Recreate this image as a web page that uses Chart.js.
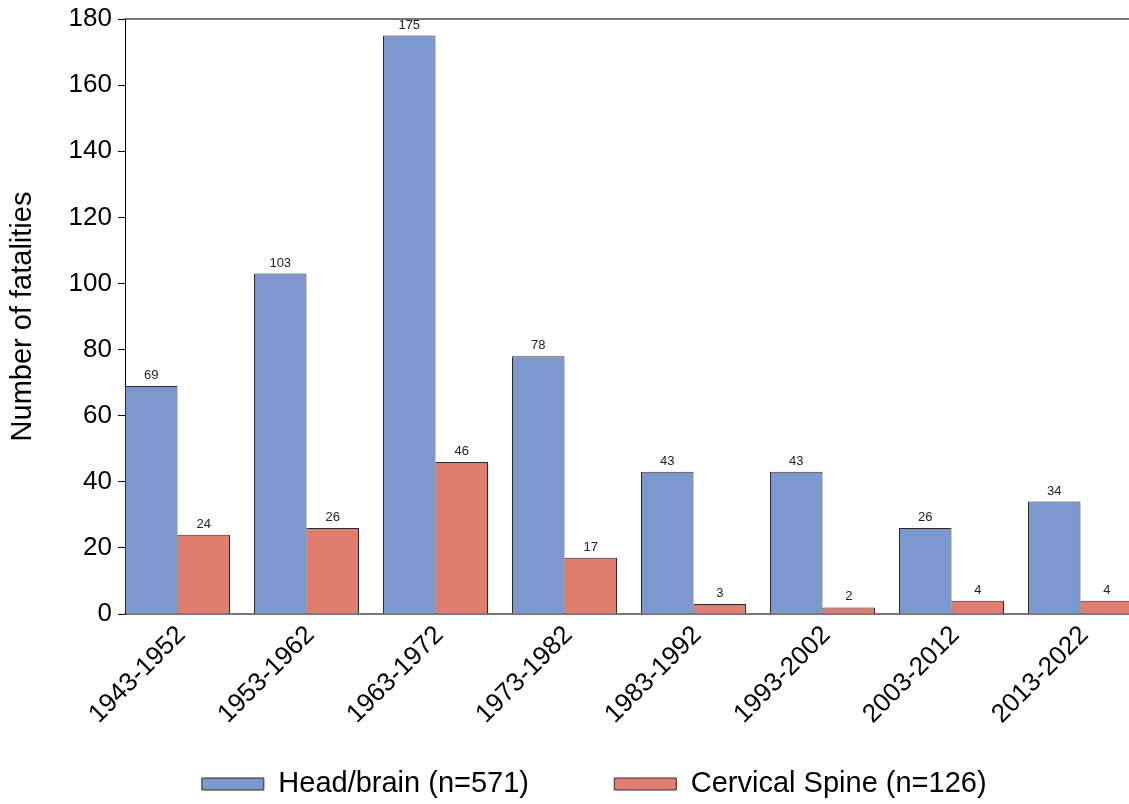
<!DOCTYPE html>
<html>
<head>
    <title>Fatalities by decade</title>
    <script src="https://cdn.jsdelivr.net/npm/chart.js"></script>
    <style>
        html, body { margin: 0; padding: 0; overflow: hidden; background: #fff; }
    </style>
</head>
<body>
    <canvas id="fatalChart" width="1160" height="820"></canvas>

    <script>
        const decades = ['1943-1952', '1953-1962', '1963-1972', '1973-1982',
                         '1983-1992', '1993-2002', '2003-2012', '2013-2022'];
        const headBrain = [69, 103, 175, 78, 43, 43, 26, 34];
        const cervicalSpine = [24, 26, 46, 17, 3, 2, 4, 4];
        const yTicks = [0, 20, 40, 60, 80, 100, 120, 140, 160, 180];

        const fontFamily = '"Liberation Sans", Arial, sans-serif';
        const groupShare = 105 / 129;   // part of each decade slot taken by the two bars
        const padLeft = 31.4;

        // numbers above the bars
        const valueLabels = {
            id: 'valueLabels',
            afterDatasetsDraw(chart) {
                const ctx = chart.ctx;
                ctx.save();
                ctx.font = '13px ' + fontFamily;
                ctx.fillStyle = '#222';
                ctx.textAlign = 'center';
                ctx.textBaseline = 'bottom';
                chart.data.datasets.forEach((ds, di) => {
                    chart.getDatasetMeta(di).data.forEach((bar, i) => {
                        ctx.fillText(ds.data[i], bar.x, bar.y - 4);
                    });
                });
                ctx.restore();
            }
        };

        const ctx = document.getElementById('fatalChart').getContext('2d');
        const fatalChart = new Chart(ctx, {
            type: 'bar',
            data: {
                labels: decades.map((d, i) => i),
                datasets: [{
                    label: 'Head/brain (n=571)',
                    data: headBrain,
                    backgroundColor: '#7C98CE',
                    borderColor: '#2b2b2b',
                    borderWidth: 1
                }, {
                    label: 'Cervical Spine (n=126)',
                    data: cervicalSpine,
                    backgroundColor: '#E07D6F',
                    borderColor: '#2b2b2b',
                    borderWidth: 1
                }]
            },
            options: {
                responsive: false,
                animation: false,
                layout: { padding: { left: padLeft, right: 3, top: 19, bottom: 11.5 } },
                datasets: {
                    bar: { categoryPercentage: groupShare, barPercentage: 1 }
                },
                plugins: {
                    tooltip: { enabled: false },
                    legend: {
                        position: 'bottom',
                        labels: {
                            boxWidth: 62,
                            boxHeight: 12,
                            padding: 45,
                            color: '#000',
                            font: { family: fontFamily, size: 29 },
                            // a few trailing spaces widen the gap between the two entries
                            generateLabels: chart => {
                                const items = Chart.defaults.plugins.legend.labels.generateLabels(chart);
                                items[0].text += '     ';
                                return items;
                            }
                        }
                    }
                },
                scales: {
                    x: {
                        type: 'linear',
                        offset: false,
                        min: -groupShare / 2,
                        max: decades.length - groupShare / 2,
                        afterBuildTicks: scale => {
                            scale.ticks = decades.map((d, i) => ({ value: i }));
                        },
                        afterFit: scale => { scale.height = 110.5; },
                        grid: { display: false, offset: false },
                        border: { color: '#777', width: 2 },
                        ticks: {
                            autoSkip: false,
                            minRotation: 45,
                            maxRotation: 45,
                            padding: -2,
                            labelOffset: 4,
                            color: '#000',
                            font: { family: fontFamily, size: 26 },
                            callback: v => decades[v]
                        }
                    },
                    xTop: {
                        type: 'linear',
                        position: 'top',
                        offset: false,
                        min: -groupShare / 2,
                        max: decades.length - groupShare / 2,
                        grid: { display: false },
                        ticks: { display: false },
                        border: { color: '#777', width: 2 },
                        afterFit: scale => { scale.height = 0; }
                    },
                    y: {
                        min: 0,
                        max: 180,
                        afterBuildTicks: scale => {
                            scale.ticks = yTicks.map(v => ({ value: v }));
                        },
                        afterFit: scale => {
                            scale.width = 125 - padLeft;
                            scale.paddingTop = 0;
                        },
                        grid: {
                            drawOnChartArea: false,
                            tickLength: 7,
                            color: '#000'
                        },
                        border: { color: '#000', width: 1 },
                        ticks: {
                            padding: 6,
                            color: '#000',
                            font: { family: fontFamily, size: 26 }
                        },
                        title: {
                            display: true,
                            text: 'Number of fatalities',
                            color: '#000',
                            padding: { top: -25.4, bottom: 0 },
                            font: { family: fontFamily, size: 29 }
                        }
                    }
                }
            },
            plugins: [valueLabels]
        });
    </script>
</body>
</html>
